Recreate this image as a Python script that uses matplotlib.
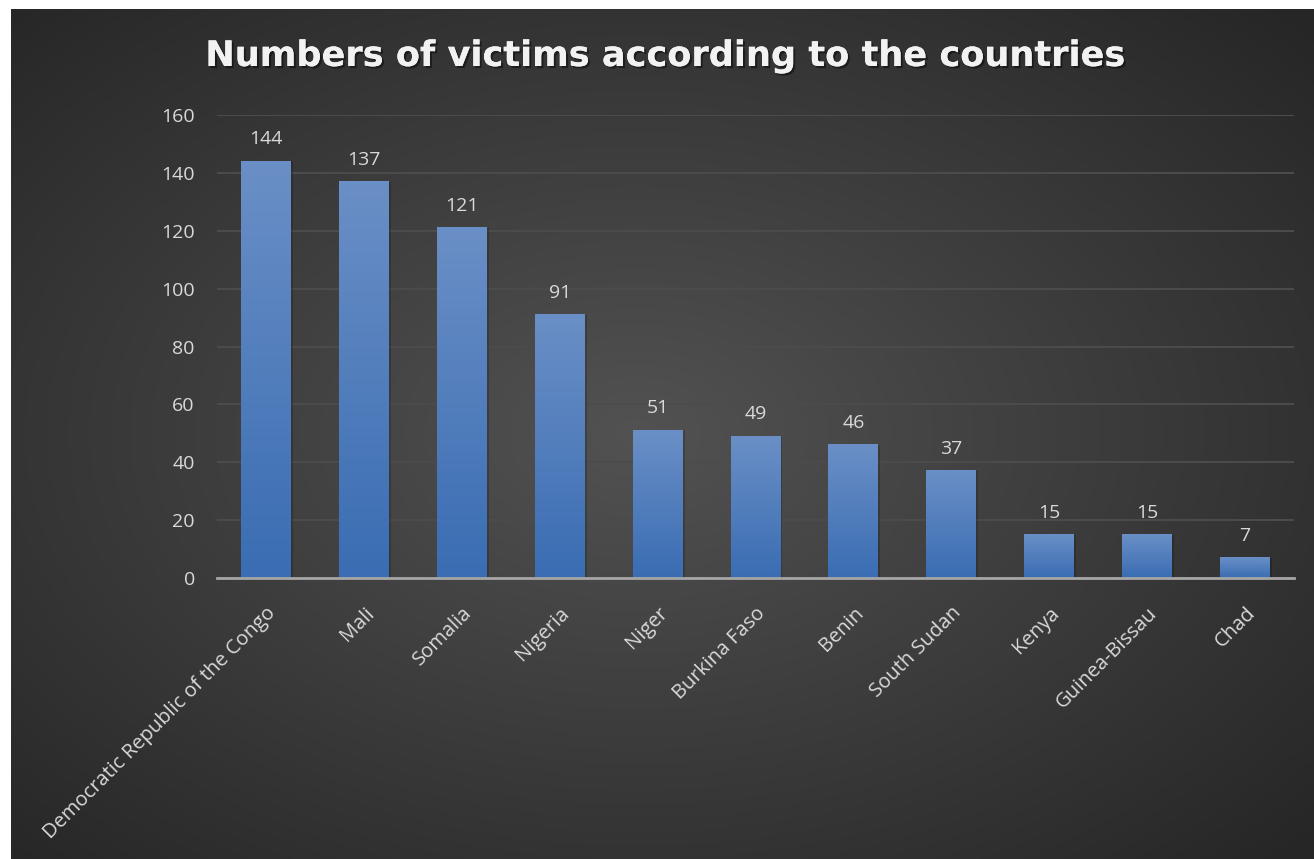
import numpy as np
import matplotlib.pyplot as plt
import matplotlib.patheffects as pe
from matplotlib.colors import LinearSegmentedColormap

# datos
paises = ['Democratic Republic of the Congo', 'Mali', 'Somalia', 'Nigeria', 'Niger',
          'Burkina Faso', 'Benin', 'South Sudan', 'Kenya', 'Guinea-Bissau', 'Chad']
victimas = [144, 137, 121, 91, 51, 49, 46, 37, 15, 15, 7]
yticks = [0, 20, 40, 60, 80, 100, 120, 140, 160]

plt.rcParams['font.family'] = ['Open Sans', 'DejaVu Sans']

fig = plt.figure(figsize=(13.14, 8.59), dpi=100, facecolor='white')

# fondo con gradiente radial
bg = fig.add_axes([11 / 1314, 0, 1303 / 1314, 850 / 859], zorder=0)
yy, xx = np.mgrid[0:1:400j, 0:1:600j]
r = np.sqrt(((xx - 0.48) / 0.75) ** 2 + ((yy - 0.5) / 0.75) ** 2)
fondo = LinearSegmentedColormap.from_list('fondo', ['#525252', '#262626'])
bg.imshow(r, cmap=fondo, aspect='auto', extent=[0, 1, 0, 1], vmin=0, vmax=0.95)
bg.set_axis_off()

ax = fig.add_axes([217 / 1314, 1 - 578 / 859, 1077 / 1314, 463 / 859], zorder=1)
ax.patch.set_alpha(0)

x = np.arange(len(paises))
barras = ax.bar(x, victimas, width=0.51, color='none', zorder=3)

azul = LinearSegmentedColormap.from_list('azul', ['#3a6db3', '#6a8fc6'])
grad = np.linspace(0, 1, 100).reshape(-1, 1)
for b, v in zip(barras, victimas):
    x0 = b.get_x()
    w = b.get_width()
    # sombra
    ax.bar(x0 + w / 2 + 0.02, v, width=w, color='black', alpha=0.18, zorder=2)
    ax.imshow(grad, cmap=azul, origin='lower', aspect='auto',
              extent=[x0, x0 + w, 0, v], zorder=3)
    ax.text(x0 + w / 2, v + 4.5, str(v), ha='center', va='bottom',
            color='#d9d9d9', fontsize=14)

ax.set_xlim(-0.5, len(paises) - 0.5)
ax.set_ylim(0, 160)
ax.set_yticks(yticks)
ax.set_yticklabels([str(t) for t in yticks])
ax.set_xticks(x)
ax.set_xticklabels(paises, rotation=45, ha='right', rotation_mode='anchor')

ax.grid(axis='y', color='#4c4c4c', linewidth=1.4, zorder=1)
ax.set_axisbelow(True)
for s in ['top', 'right', 'left']:
    ax.spines[s].set_visible(False)
ax.spines['bottom'].set_color('#a6a6a6')
ax.spines['bottom'].set_linewidth(2)
ax.spines['bottom'].set_zorder(4)
ax.tick_params(axis='y', length=0, pad=16, labelsize=14, labelcolor='#d9d9d9')
ax.tick_params(axis='x', length=0, pad=18, labelsize=14.5, labelcolor='#d9d9d9')

fig.text(0.5065, 1 - 56 / 859, 'Numbers of victims according to the countries',
         ha='center', va='center', fontsize=25.3, fontweight='bold', color='#f2f2f2',
         family=['DejaVu Sans'],
         path_effects=[pe.withSimplePatchShadow(offset=(1.5, -1.5), shadow_rgbFace='black', alpha=0.45),
                       pe.Normal()])

plt.savefig('out.png', dpi=100, facecolor='white')
